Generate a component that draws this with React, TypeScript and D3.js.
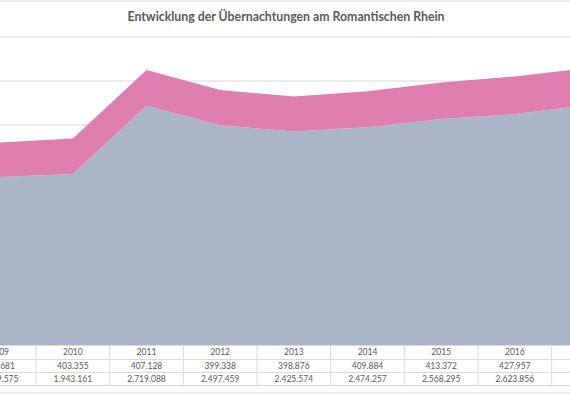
import { useEffect, useRef } from "react";
import * as d3 from "d3";

// Übernachtungen am Romantischen Rhein (2009 und 2017 teilweise abgeschnitten, geschätzt)
const YEARS = [2009, 2010, 2011, 2012, 2013, 2014, 2015, 2016, 2017];
const UPPER = [391681, 403355, 407128, 399338, 398876, 409884, 413372, 427957, 424000];
const LOWER = [1909575, 1943161, 2719088, 2497459, 2425574, 2474257, 2568295, 2623856, 2727000];
const Y_TICKS = [0, 500000, 1000000, 1500000, 2000000, 2500000, 3000000, 3500000];

const W = 570;
const H = 394;
const PINK = "#de7eaf";
const BLUE = "#abb6c8";
const GRID = "#d9d9d9";
const TEXT = "#595959";
const FONT = "Lato, 'Open Sans', sans-serif";

const fmt = (v: number) => d3.format(",")(v).replace(/,/g, ".");

export default function App() {
  const svgRef = useRef<SVGSVGElement>(null);

  useEffect(() => {
    if (!svgRef.current) return;
    const svg = d3.select(svgRef.current);
    svg.selectAll("*").remove();

    const colW = 73.67;
    const x = d3
      .scaleBand<number>()
      .domain(YEARS)
      .range([36 - colW, 36 - colW + colW * YEARS.length])
      .paddingInner(0);
    const cx = (yr: number) => (x(yr) as number) + x.bandwidth() / 2;
    const y = d3.scaleLinear().domain([0, 3500000]).range([345, 37]);

    // chart border (top, bottom)
    svg.append("line").attr("x1", 0).attr("x2", W).attr("y1", 1).attr("y2", 1)
      .attr("stroke", GRID).attr("stroke-width", 1);
    svg.append("line").attr("x1", 0).attr("x2", W).attr("y1", 393).attr("y2", 393)
      .attr("stroke", GRID).attr("stroke-width", 1);

    // title
    svg.append("text")
      .attr("x", 286).attr("y", 17).attr("dy", "0.35em")
      .attr("text-anchor", "middle")
      .attr("fill", TEXT)
      .attr("font-family", FONT)
      .attr("font-weight", 700)
      .attr("font-size", "12.3px")
      .text("Entwicklung der Übernachtungen am Romantischen Rhein");

    // gridlines
    svg.selectAll("line.grid")
      .data(Y_TICKS.slice(1))
      .join("line")
      .attr("class", "grid")
      .attr("x1", 0).attr("x2", W)
      .attr("y1", (d) => y(d)).attr("y2", (d) => y(d))
      .attr("stroke", GRID).attr("stroke-width", 1);

    // stacked areas
    const rows = YEARS.map((yr, i) => ({ year: yr, lower: LOWER[i], upper: UPPER[i] }));
    const stacked = d3.stack<{ year: number; lower: number; upper: number }>()
      .keys(["lower", "upper"])(rows);
    const area = d3.area<d3.SeriesPoint<{ year: number; lower: number; upper: number }>>()
      .x((d) => cx(d.data.year))
      .y0((d) => y(d[0]))
      .y1((d) => y(d[1]));
    const colors = [BLUE, PINK];
    stacked.forEach((s, i) => {
      svg.append("path").datum(s).attr("fill", colors[i]).attr("d", area as never);
    });

    // data table
    const rowLines = [345, 359, 372, 385];
    const left = x(YEARS[0]) as number;
    svg.selectAll("line.trow")
      .data(rowLines)
      .join("line")
      .attr("class", "trow")
      .attr("x1", 0).attr("x2", W)
      .attr("y1", (d) => d + 0.5).attr("y2", (d) => d + 0.5)
      .attr("stroke", GRID).attr("stroke-width", 1);
    svg.selectAll("line.tcol")
      .data(YEARS.map((yr) => (x(yr) as number) + x.bandwidth()).concat([left]))
      .join("line")
      .attr("class", "tcol")
      .attr("x1", (d) => d).attr("x2", (d) => d)
      .attr("y1", 345).attr("y2", 385)
      .attr("stroke", GRID).attr("stroke-width", 1);

    // the 2017 column lies outside the visible crop, so its labels are not drawn
    const shown = YEARS.length - 1;
    const textRows: { cy: number; vals: string[] }[] = [
      { cy: 352.5, vals: YEARS.slice(0, shown).map(String) },
      { cy: 366, vals: UPPER.slice(0, shown).map(fmt) },
      { cy: 379.5, vals: LOWER.slice(0, shown).map(fmt) },
    ];
    textRows.forEach((r, ri) => {
      svg.selectAll(`text.r${ri}`)
        .data(r.vals)
        .join("text")
        .attr("class", `r${ri}`)
        .attr("x", (_, i) => cx(YEARS[i]))
        .attr("y", r.cy)
        .attr("dy", "0.35em")
        .attr("text-anchor", "middle")
        .attr("fill", TEXT)
        .attr("font-family", FONT)
        .attr("font-size", "8.5px")
        .text((d) => d);
    });
  }, []);

  return (
    <svg
      ref={svgRef}
      width={W}
      height={H}
      style={{ position: "absolute", left: 0, top: 0, background: "#fff" }}
    />
  );
}
